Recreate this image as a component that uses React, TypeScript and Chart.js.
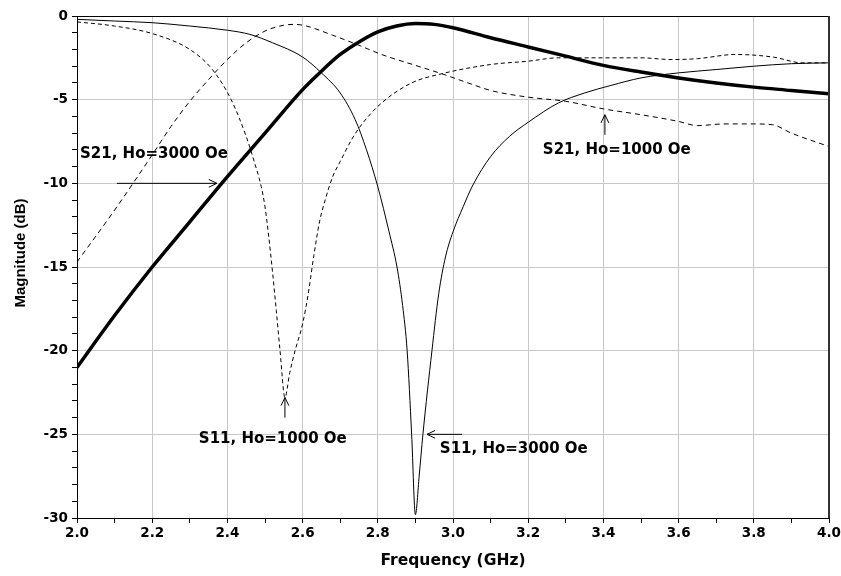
import { useEffect, useRef } from "react";
import { Chart, registerables } from "chart.js";

Chart.register(...registerables);

// ---- Data ----
const s21Ho3000Freq = [2.0, 2.1, 2.2, 2.3, 2.4, 2.5, 2.6, 2.65, 2.7, 2.75, 2.8, 2.85, 2.9, 2.95, 3.0, 3.1, 3.2, 3.3, 3.4, 3.5, 3.6, 3.7, 3.8, 3.9, 4.0];
const s21Ho3000Mag = [-21, -17.9, -15, -12.3, -9.6, -7.0, -4.4, -3.3, -2.3, -1.55, -0.95, -0.6, -0.45, -0.5, -0.7, -1.3, -1.85, -2.4, -2.95, -3.35, -3.7, -4.0, -4.25, -4.45, -4.65];

const s11Ho3000Freq = [2.0, 2.1, 2.2, 2.3, 2.4, 2.46, 2.52, 2.6, 2.65, 2.7, 2.74, 2.77, 2.8, 2.83, 2.851, 2.866, 2.878, 2.89, 2.9, 2.91, 2.92, 2.944, 2.962, 2.98, 3.0, 3.027, 3.053, 3.1, 3.15, 3.2, 3.28, 3.35, 3.42, 3.5, 3.6, 3.7, 3.8, 3.9, 4.0];
const s11Ho3000Mag = [-0.2, -0.3, -0.4, -0.6, -0.85, -1.1, -1.6, -2.45, -3.4, -4.6, -6.2, -8.0, -10.2, -12.9, -15, -17.3, -20, -25, -29.8, -27.5, -25, -20, -16.6, -14.4, -12.9, -11.4, -10.1, -8.4, -7.2, -6.35, -5.2, -4.6, -4.15, -3.7, -3.4, -3.2, -3.0, -2.85, -2.8];

const s11Ho1000Freq = [2.0, 2.1, 2.2, 2.3, 2.36, 2.41, 2.45, 2.47, 2.49, 2.5, 2.51, 2.52, 2.53, 2.54, 2.553, 2.566, 2.58, 2.6, 2.615, 2.63, 2.645, 2.66, 2.68, 2.7, 2.73, 2.76, 2.81, 2.89, 2.97, 3.1, 3.2, 3.28, 3.4, 3.5, 3.58, 3.65, 3.75, 3.85, 3.93, 4.0];
const s11Ho1000Mag = [-0.35, -0.6, -1.05, -2.0, -3.2, -5.0, -7.2, -8.6, -10.2, -11.4, -13.2, -15.3, -17.6, -20.0, -22.8, -21.3, -20.0, -18.4, -16.6, -14.3, -12.3, -11.0, -9.6, -8.7, -7.4, -6.4, -5.2, -4.0, -3.45, -2.9, -2.7, -2.5, -2.5, -2.5, -2.6, -2.55, -2.3, -2.45, -2.8, -2.8];

const s21Ho1000Freq = [2.0, 2.1, 2.2, 2.25, 2.3, 2.35, 2.4, 2.45, 2.5, 2.55, 2.58, 2.61, 2.68, 2.75, 2.81, 2.9, 2.97, 3.04, 3.1, 3.2, 3.3, 3.4, 3.5, 3.6, 3.65, 3.72, 3.8, 3.85, 3.9, 4.0];
const s21Ho1000Mag = [-14.7, -11.6, -8.3, -6.6, -5.1, -3.8, -2.6, -1.6, -0.9, -0.55, -0.5, -0.6, -1.15, -1.75, -2.3, -2.95, -3.45, -4.0, -4.45, -4.85, -5.1, -5.55, -5.9, -6.3, -6.55, -6.45, -6.45, -6.5, -7.0, -7.8];

const xTitle = "Frequency (GHz)";
const yTitle = "Magnitude (dB)";

// Annotation labels with arrows (data coordinates)
const annotationTexts = ["S21, Ho=3000 Oe", "S21, Ho=1000 Oe", "S11, Ho=1000 Oe", "S11, Ho=3000 Oe"];
const annotationTextAt = [[2.008, -8.25], [3.239, -8.0], [2.324, -25.3], [2.965, -25.9]];
const annotationArrowFrom = [[2.106, -10], [3.404, -7.1], [2.553, -24.0], [3.024, -25]];
const annotationArrowTo = [[2.372, -10], [3.404, -5.9], [2.553, -22.8], [2.931, -25]];

const toPoints = (xs: number[], ys: number[]) => xs.map((x, i) => ({ x, y: ys[i] }));

const TICK_FONT = { family: "'DejaVu Sans'", size: 13.5, weight: "bold" as const };

const framePlugin = {
  id: "frameAndNotes",
  afterDatasetsDraw(chart: any) {
    const { ctx, chartArea, scales } = chart;
    const { left, right, top, bottom } = chartArea;
    const xs = scales.x;
    const ys = scales.y;
    ctx.save();
    // top border
    ctx.strokeStyle = "#000";
    ctx.lineWidth = 1;
    ctx.beginPath();
    ctx.moveTo(left, Math.round(top) + 0.5);
    ctx.lineTo(right, Math.round(top) + 0.5);
    ctx.stroke();
    // right border
    ctx.strokeStyle = "#333";
    ctx.lineWidth = 2;
    ctx.beginPath();
    ctx.moveTo(right, top);
    ctx.lineTo(right, bottom);
    ctx.stroke();

    // annotations
    ctx.fillStyle = "#000";
    ctx.strokeStyle = "#000";
    ctx.lineWidth = 1;
    ctx.font = "bold 15px 'DejaVu Sans'";
    ctx.textAlign = "left";
    ctx.textBaseline = "middle";
    annotationTexts.forEach((t, i) => {
      const tx = xs.getPixelForValue(annotationTextAt[i][0]);
      const ty = ys.getPixelForValue(annotationTextAt[i][1]);
      ctx.fillText(t, tx, ty);
      const fx = xs.getPixelForValue(annotationArrowFrom[i][0]);
      const fy = ys.getPixelForValue(annotationArrowFrom[i][1]);
      const ex = xs.getPixelForValue(annotationArrowTo[i][0]);
      const ey = ys.getPixelForValue(annotationArrowTo[i][1]);
      ctx.beginPath();
      ctx.moveTo(fx, fy);
      ctx.lineTo(ex, ey);
      const ang = Math.atan2(ey - fy, ex - fx);
      const len = 9;
      const spread = 0.45;
      ctx.moveTo(ex - len * Math.cos(ang - spread), ey - len * Math.sin(ang - spread));
      ctx.lineTo(ex, ey);
      ctx.lineTo(ex - len * Math.cos(ang + spread), ey - len * Math.sin(ang + spread));
      ctx.stroke();
    });

    // y axis title
    ctx.font = "bold 15px 'Liberation Sans'";
    ctx.textAlign = "center";
    ctx.textBaseline = "middle";
    ctx.translate(21, 253);
    ctx.rotate(-Math.PI / 2);
    ctx.fillText(yTitle, 0, 0);
    ctx.restore();
  },
};

export default function App() {
  const ref = useRef<HTMLCanvasElement | null>(null);

  useEffect(() => {
    if (!ref.current) return;
    Chart.defaults.color = "#000";
    const chart = new Chart(ref.current, {
      type: "line",
      data: {
        datasets: [
          {
            label: "S11, Ho=3000 Oe",
            data: toPoints(s11Ho3000Freq, s11Ho3000Mag),
            borderColor: "#000",
            borderWidth: 1,
            pointRadius: 0,
            cubicInterpolationMode: "monotone",
          },
          {
            label: "S11, Ho=1000 Oe",
            data: toPoints(s11Ho1000Freq, s11Ho1000Mag),
            borderColor: "#000",
            borderWidth: 1,
            borderDash: [4, 3],
            pointRadius: 0,
            cubicInterpolationMode: "monotone",
          },
          {
            label: "S21, Ho=1000 Oe",
            data: toPoints(s21Ho1000Freq, s21Ho1000Mag),
            borderColor: "#000",
            borderWidth: 1,
            borderDash: [5, 4],
            pointRadius: 0,
            cubicInterpolationMode: "monotone",
          },
          {
            label: "S21, Ho=3000 Oe",
            data: toPoints(s21Ho3000Freq, s21Ho3000Mag),
            borderColor: "#000",
            borderWidth: 3.5,
            pointRadius: 0,
            cubicInterpolationMode: "monotone",
          },
        ],
      },
      options: {
        animation: false,
        responsive: false,
        layout: { padding: { top: 16, right: 12, left: 0, bottom: 0 } },
        plugins: { legend: { display: false }, tooltip: { enabled: false } },
        scales: {
          x: {
            type: "linear",
            min: 2,
            max: 4,
            afterFit: (s: any) => {
              s.height = 58;
              s.paddingLeft = 0;
              s.paddingRight = 0;
            },
            border: { display: true, color: "#000", width: 1 },
            grid: {
              color: (c: any) => (Math.round(c.tick.value * 10) % 2 === 0 ? "#c8c8c8" : "rgba(0,0,0,0)"),
              tickColor: "#000",
              tickLength: 5,
              lineWidth: 1,
            },
            ticks: {
              stepSize: 0.1,
              autoSkip: false,
              maxRotation: 0,
              padding: 2,
              color: "#000",
              font: TICK_FONT,
              callback: (v: any) => {
                const n = Math.round(Number(v) * 10);
                return n % 2 === 0 ? (n / 10).toFixed(1) : "";
              },
            },
            title: {
              display: true,
              text: xTitle,
              color: "#000",
              font: { family: "'DejaVu Sans'", size: 15.5, weight: "bold" },
              padding: { top: 0, bottom: 6 },
            },
          },
          y: {
            type: "linear",
            min: -30,
            max: 0,
            afterFit: (s: any) => {
              s.width = 77;
              s.paddingTop = 0;
              s.paddingBottom = 0;
            },
            border: { display: true, color: "#000", width: 1 },
            grid: {
              color: (c: any) => (Math.round(c.tick.value) % 5 === 0 ? "#c8c8c8" : "rgba(0,0,0,0)"),
              tickColor: "#000",
              tickLength: 5,
              lineWidth: 1,
            },
            ticks: {
              stepSize: 1,
              autoSkip: false,
              padding: 4,
              color: "#000",
              font: TICK_FONT,
              callback: (v: any) => {
                const n = Math.round(Number(v));
                return n % 5 === 0 ? String(n) : "";
              },
            },
          },
        },
      },
      plugins: [framePlugin],
    } as any);
    return () => chart.destroy();
  }, []);

  return (
    <div style={{ position: "fixed", left: 0, top: 0, width: 841, height: 576, background: "#fff" }}>
      <canvas ref={ref} width={841} height={576} style={{ display: "block" }} />
    </div>
  );
}
